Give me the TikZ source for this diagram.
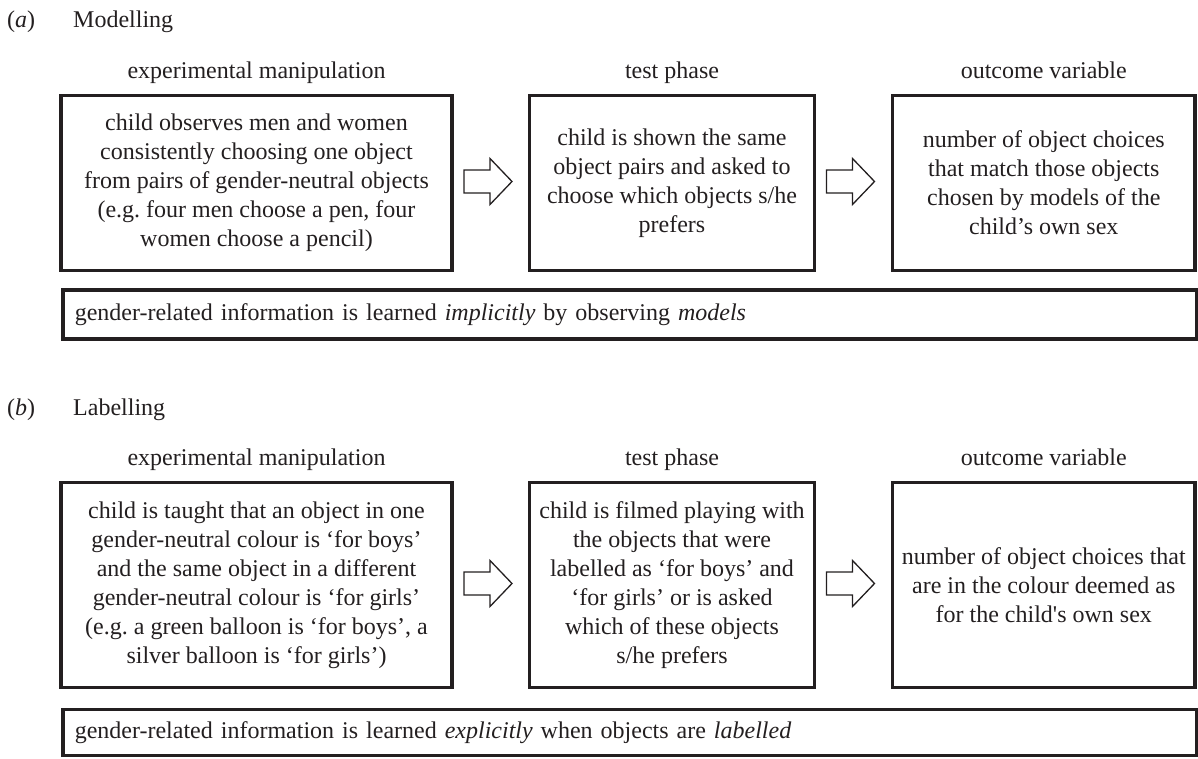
\documentclass[tikz,border=0pt]{standalone}
\usepackage{fontspec}
\setmainfont{Liberation Serif}
\usetikzlibrary{calc}
\definecolor{ink}{HTML}{231F20}
\frenchspacing
\tikzset{
  txt/.style={font=\fontsize{24}{29}\selectfont, text=ink},
  stage/.style={txt, draw=ink, line width=3.5pt, align=center, inner sep=0pt},
  note/.style={txt, draw=ink, line width=3.5pt, align=left, text width=1110pt,
    inner xsep=12pt, inner ysep=0pt, anchor=west},
  head/.style={txt, anchor=base, inner sep=0pt},
  lab/.style={txt, anchor=base west, inner sep=0pt},
  blk/.style={draw=ink, line width=1.3pt, fill=white, line join=miter},
  pics/blockarr/.style={code={
    \draw[blk] (-24,-11.5) -- (2,-11.5) -- (2,-23) -- (24,0) -- (2,23) -- (2,11.5) -- (-24,11.5) -- cycle;}}
}
\begin{document}
\begin{tikzpicture}[x=1pt,y=-1pt]
\useasboundingbox (0,0) rectangle (1198,758);

% ---------- panel (a) ----------
\node[lab] (la) at (7,27) {(\textit{a})};
\node[lab] (ta) at (73,27) {Modelling};

\node[head] (ha1) at (256.5,78) {experimental manipulation};
\node[head] (ha2) at (672,78) {test phase};
\node[head] (ha3) at (1043.75,78) {outcome variable};

\node[stage, minimum width=391pt, minimum height=175pt] (ma1) at (256.5,183)
  {child observes men and women\\consistently choosing one object\\from pairs of gender-neutral objects\\(e.g. four men choose a pen, four\\women choose a pencil)};
\node[stage, minimum width=285pt, minimum height=175pt] (ma2) at (672,183)
  {child is shown the same\\object pairs and asked to\\choose which objects s/he\\prefers};
\node[stage, minimum width=302.5pt, minimum height=175pt] (ma3) at (1043.75,183)
  {number of object choices\\that match those objects\\chosen by models of the\\child’s own sex};

\pic at ($(ma1.east)!0.5!(ma2.west)+(-2.75,-1.5)$) {blockarr};
\pic at ($(ma2.east)!0.5!(ma3.west)+(-3,-1.5)$) {blockarr};

\node[note, minimum height=49pt] (na) at (61,314.5)
  {gender-related information is learned \textit{implicitly} by observing \textit{models}};

% ---------- panel (b) ----------
\node[lab] (lb) at (7,415) {(\textit{b})};
\node[lab] (tb) at (73,415) {Labelling};

\node[head] (hb1) at (256.5,465) {experimental manipulation};
\node[head] (hb2) at (672,465) {test phase};
\node[head] (hb3) at (1043.75,465) {outcome variable};

\node[stage, minimum width=391pt, minimum height=205pt] (mb1) at (256.5,585)
  {child is taught that an object in one\\gender-neutral colour is ‘for boys’\\and the same object in a different\\gender-neutral colour is ‘for girls’\\(e.g. a green balloon is ‘for boys’, a\\silver balloon is ‘for girls’)};
\node[stage, minimum width=285pt, minimum height=205pt] (mb2) at (672,585)
  {child is filmed playing with\\the objects that were\\labelled as ‘for boys’ and\\‘for girls’ or is asked\\which of these objects\\s/he prefers};
\node[stage, minimum width=302.5pt, minimum height=205pt] (mb3) at (1043.75,585)
  {number of object choices that\\are in the colour deemed as\\for the child\textquotesingle s own sex};

\pic at ($(mb1.east)!0.5!(mb2.west)+(-2.75,-1.5)$) {blockarr};
\pic at ($(mb2.east)!0.5!(mb3.west)+(-3,-1.5)$) {blockarr};

\node[note, minimum height=46pt] (nb) at (61,732.5)
  {gender-related information is learned \textit{explicitly} when objects are \textit{labelled}};
\end{tikzpicture}
\end{document}
